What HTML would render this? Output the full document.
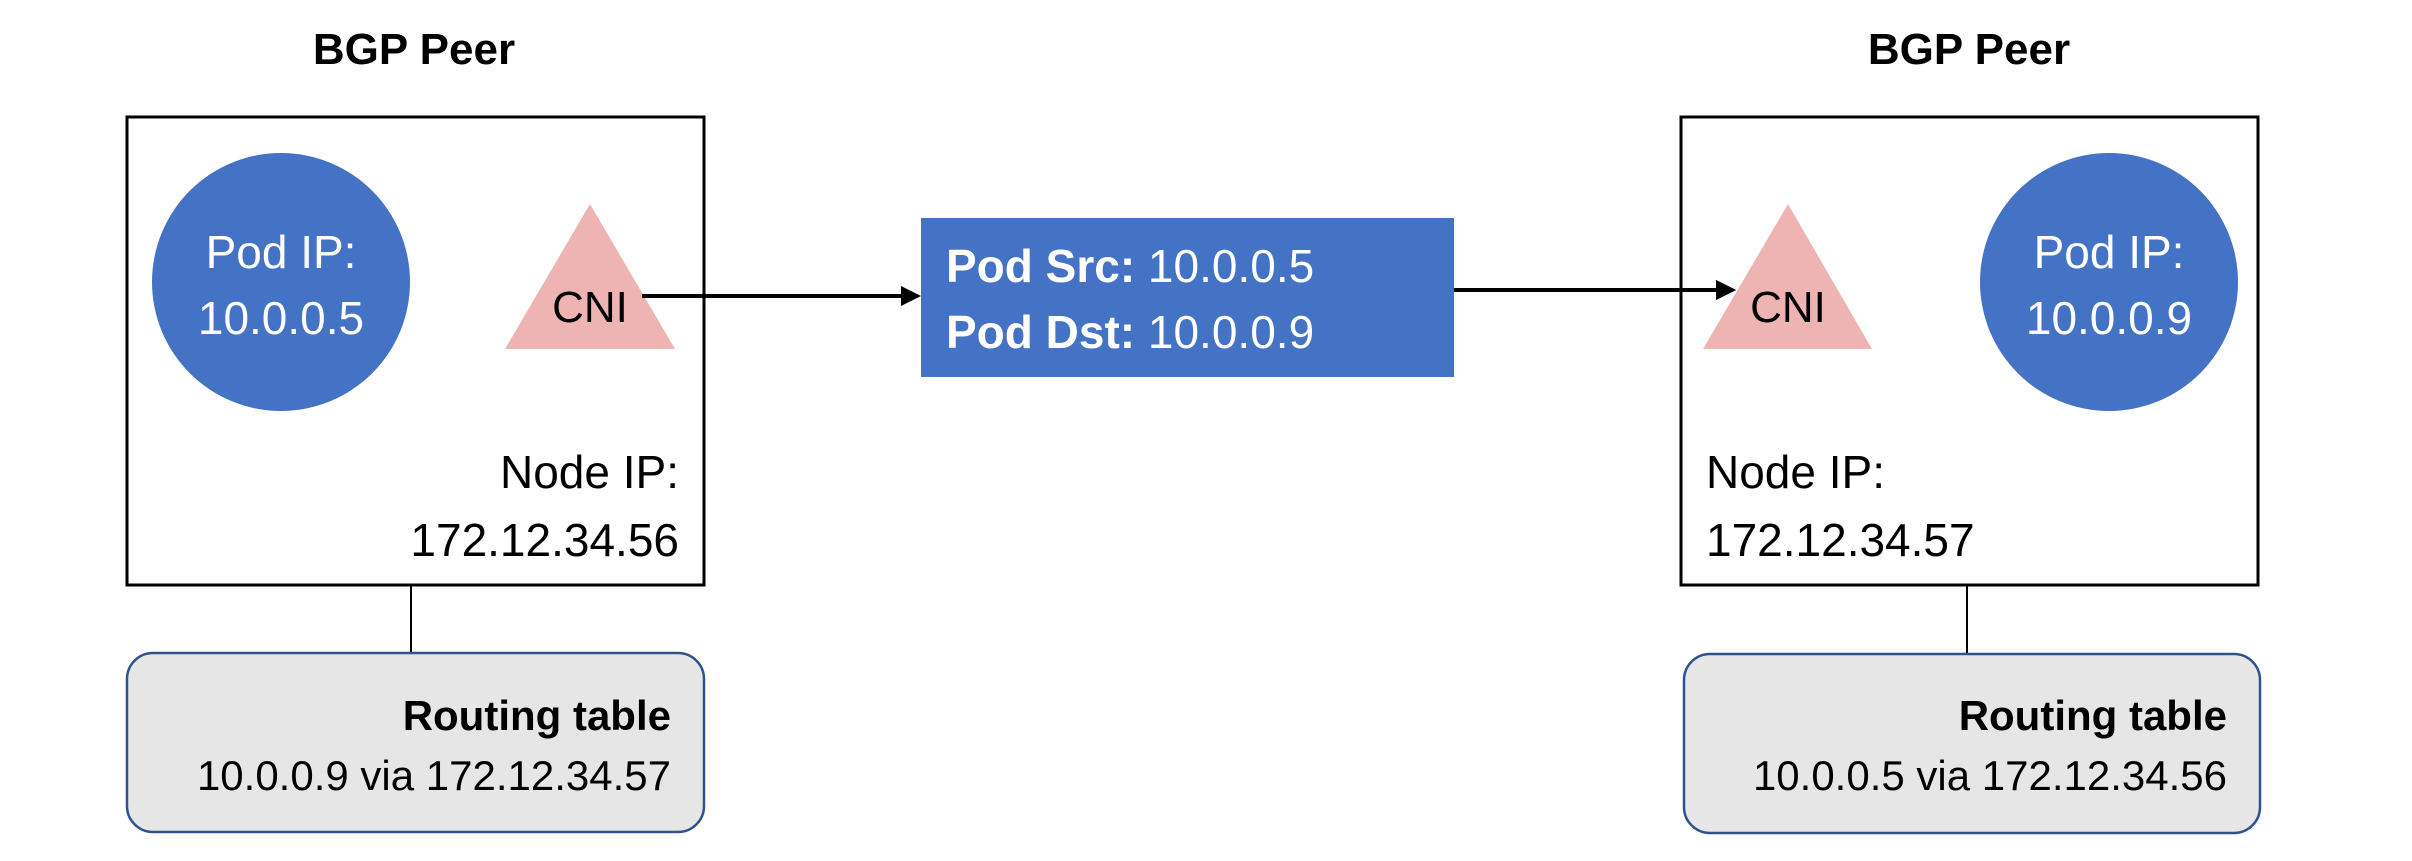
<!DOCTYPE html>
<html><head><meta charset="utf-8"><style>
html,body{margin:0;padding:0;background:#fff;}
svg{display:block;}
text{font-family:"Liberation Sans",sans-serif;}
</style></head><body>
<svg width="2412" height="861" viewBox="0 0 2412 861" xmlns="http://www.w3.org/2000/svg">
<rect width="2412" height="861" fill="#fff"/>
<text x="414" y="64" font-size="44" font-weight="bold" text-anchor="middle">BGP Peer</text>
<text x="1969" y="64" font-size="44" font-weight="bold" text-anchor="middle">BGP Peer</text>
<rect x="127" y="117" width="577" height="468" fill="#fff" stroke="#000" stroke-width="3"/>
<circle cx="281" cy="282" r="129" fill="#4472c4"/>
<text x="281" y="268" font-size="46" fill="#fff" text-anchor="middle">Pod IP:</text>
<text x="281" y="334" font-size="46" fill="#fff" text-anchor="middle">10.0.0.5</text>
<polygon points="590,204 675,349 505,349" fill="#eeb4b4"/>
<text x="590" y="322" font-size="44" text-anchor="middle">CNI</text>
<text x="679" y="488" font-size="46" text-anchor="end">Node IP:</text>
<text x="679" y="556" font-size="46" text-anchor="end">172.12.34.56</text>
<line x1="411" y1="585" x2="411" y2="653" stroke="#000" stroke-width="2"/>
<rect x="127" y="653" width="577" height="179" rx="26" fill="#e7e6e6" stroke="#2f528f" stroke-width="2.5"/>
<text x="671" y="730" font-size="42" font-weight="bold" text-anchor="end">Routing table</text>
<text x="671" y="790" font-size="42" text-anchor="end">10.0.0.9 via 172.12.34.57</text>
<line x1="642" y1="296" x2="905" y2="296" stroke="#000" stroke-width="4"/>
<polygon points="921,296 901,286 901,306" fill="#000"/>
<rect x="921" y="218" width="533" height="159" fill="#4472c4"/>
<text x="946" y="282" font-size="46" fill="#fff"><tspan font-weight="bold">Pod Src:</tspan> 10.0.0.5</text>
<text x="946" y="348" font-size="46" fill="#fff"><tspan font-weight="bold">Pod Dst:</tspan> 10.0.0.9</text>
<line x1="1454" y1="290" x2="1720" y2="290" stroke="#000" stroke-width="4"/>
<polygon points="1736,290 1716,280 1716,300" fill="#000"/>
<rect x="1681" y="117" width="577" height="468" fill="none" stroke="#000" stroke-width="3"/>
<polygon points="1788,204 1872,349 1703,349" fill="#eeb4b4"/>
<line x1="1700" y1="290" x2="1720" y2="290" stroke="#000" stroke-width="4"/>
<polygon points="1736,290 1716,280 1716,300" fill="#000"/>
<text x="1788" y="322" font-size="44" text-anchor="middle">CNI</text>
<circle cx="2109" cy="282" r="129" fill="#4472c4"/>
<text x="2109" y="268" font-size="46" fill="#fff" text-anchor="middle">Pod IP:</text>
<text x="2109" y="334" font-size="46" fill="#fff" text-anchor="middle">10.0.0.9</text>
<text x="1706" y="488" font-size="46">Node IP:</text>
<text x="1706" y="556" font-size="46">172.12.34.57</text>
<line x1="1967" y1="585" x2="1967" y2="654" stroke="#000" stroke-width="2"/>
<rect x="1684" y="654" width="576" height="179" rx="26" fill="#e7e6e6" stroke="#2f528f" stroke-width="2.5"/>
<text x="2227" y="730" font-size="42" font-weight="bold" text-anchor="end">Routing table</text>
<text x="2227" y="790" font-size="42" text-anchor="end">10.0.0.5 via 172.12.34.56</text>
</svg>
</body></html>
